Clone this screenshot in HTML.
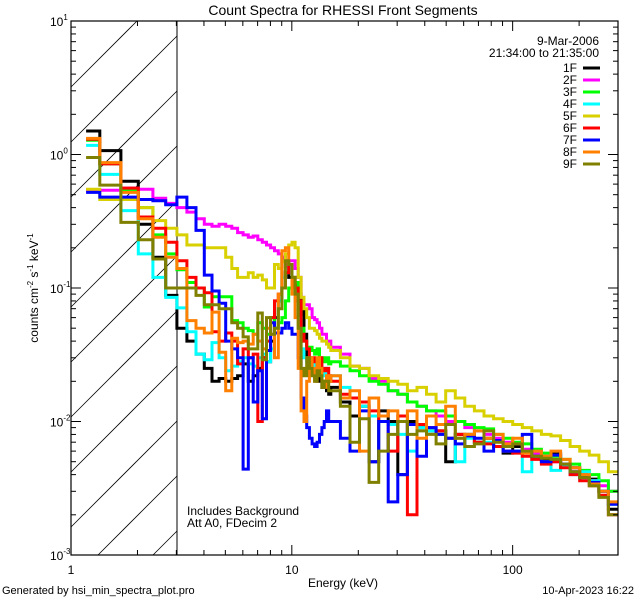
<!DOCTYPE html>
<html><head><meta charset="utf-8">
<style>
html,body{margin:0;padding:0;background:#fff;width:640px;height:600px;overflow:hidden;}
svg{display:block;font-family:"Liberation Sans",sans-serif;}
</style></head>
<body>
<svg id="chart" width="640" height="600" viewBox="0 0 640 600" xmlns="http://www.w3.org/2000/svg">
<rect x="0" y="0" width="640" height="600" fill="#fff"/>
<defs><clipPath id="plotclip"><rect x="71" y="21" width="547" height="534"/></clipPath></defs>
<g id="hatch"></g>
<line x1="177" y1="21" x2="177" y2="555" stroke="#000" stroke-width="1"/>
<g id="series" clip-path="url(#plotclip)"></g>
<rect x="71" y="21" width="547" height="534" fill="none" stroke="#000" stroke-width="1.2"/>
<g id="ticks"></g>
<text x="343" y="15" font-size="14" text-anchor="middle">Count Spectra for RHESSI Front Segments</text>
<text x="343" y="587" font-size="12" text-anchor="middle">Energy (keV)</text>
<text transform="translate(38,288) rotate(-90)" font-size="12" text-anchor="middle">counts cm<tspan font-size="8" dy="-5">-2</tspan><tspan dy="5"> s</tspan><tspan font-size="8" dy="-5">-1</tspan><tspan dy="5"> keV</tspan><tspan font-size="8" dy="-5">-1</tspan></text>
<text x="599" y="45" font-size="12" text-anchor="end">9-Mar-2006</text>
<text x="599" y="57" font-size="12" text-anchor="end">21:34:00 to 21:35:00</text>
<g id="legend"></g>
<text x="187" y="515" font-size="12">Includes Background</text>
<text x="187" y="527" font-size="12">Att A0, FDecim 2</text>
<text x="2" y="594" font-size="11">Generated by hsi_min_spectra_plot.pro</text>
<text x="634" y="594" font-size="11" text-anchor="end">10-Apr-2023 16:22</text>
</svg>
<script>
const seriesNames = ["1F","2F","3F","4F","5F","6F","7F","8F","9F"];
const seriesColors = ["#000000","#ff00ff","#00ff00","#00ffff","#d8d000","#ff0000","#0000ff","#ff8000","#808000"];
const lowEdgeStart = [1.17, 1.35];
const lowBinWidth = 1/3;
const highEdgeMax = 300;
const highBinCount = 30;
const s1F = [1.5,1.07,0.63,0.30,0.17,0.088,0.05,0.04,0.032,0.025,0.02,0.021,0.02,0.021,0.022,0.027,0.02,0.022,0.025,0.03,0.028,0.04,0.06,0.08,0.17,0.16,0.12,0.10,0.11,0.09,0.07,0.045,0.03,0.028,0.025,0.022,0.02,0.022,0.018,0.02,0.017,0.016,
 0.018,0.014,0.011,0.013,0.005,0.012,0.01,0.004,0.01,0.009,0.0085,0.0085,0.005,0.008,0.008,0.007,0.0075,0.0065,0.0058,0.0065,0.006,0.0055,0.0052,0.0058,0.0048,0.0045,0.004,0.0037,0.003,0.0022];
const s2F = [0.54,0.54,0.56,0.55,0.47,0.43,0.40,0.37,0.33,0.30,0.29,0.30,0.29,0.28,0.26,0.25,0.24,0.245,0.23,0.22,0.21,0.20,0.19,0.18,0.17,0.145,0.16,0.16,0.14,0.12,0.085,0.075,0.075,0.07,0.06,0.058,0.055,0.05,0.045,0.045,0.04,0.04,
 0.036,0.032,0.026,0.025,0.021,0.02,0.017,0.016,0.014,0.013,0.012,0.011,0.01,0.01,0.009,0.0085,0.008,0.0075,0.007,0.0068,0.0062,0.0058,0.0055,0.005,0.0048,0.0045,0.004,0.0036,0.0033,0.003];
const s3F = [1.28,0.85,0.54,0.40,0.25,0.18,0.137,0.11,0.10,0.072,0.086,0.086,0.086,0.057,0.055,0.05,0.048,0.045,0.055,0.05,0.045,0.06,0.05,0.055,0.06,0.08,0.1,0.12,0.11,0.08,0.05,0.04,0.035,0.036,0.034,0.032,0.035,0.03,0.03,0.028,0.03,0.027,
 0.028,0.026,0.024,0.022,0.02,0.019,0.017,0.016,0.014,0.013,0.012,0.012,0.011,0.01,0.0095,0.009,0.0088,0.008,0.0075,0.007,0.0068,0.0062,0.0058,0.0055,0.0052,0.0048,0.0043,0.004,0.0036,0.003];
const s4F = [1.17,0.71,0.38,0.18,0.12,0.085,0.071,0.047,0.032,0.029,0.039,0.03,0.024,0.026,0.028,0.03,0.027,0.026,0.03,0.032,0.028,0.035,0.05,0.08,0.12,0.13,0.145,0.1,0.08,0.06,0.035,0.03,0.028,0.03,0.027,0.025,0.028,0.024,0.022,0.025,0.022,0.02,
 0.022,0.018,0.015,0.013,0.011,0.01,0.0095,0.008,0.006,0.009,0.0085,0.008,0.0075,0.005,0.0075,0.007,0.007,0.0065,0.006,0.006,0.0042,0.0055,0.005,0.0043,0.0046,0.004,0.0042,0.0036,0.003,0.0024];
const s5F = [0.55,0.46,0.46,0.40,0.32,0.28,0.25,0.21,0.21,0.2,0.2,0.2,0.17,0.14,0.12,0.12,0.13,0.12,0.125,0.115,0.1,0.1,0.15,0.14,0.157,0.18,0.21,0.22,0.2,0.12,0.085,0.07,0.06,0.05,0.05,0.048,0.045,0.042,0.04,0.04,0.038,0.036,
 0.034,0.03,0.026,0.025,0.022,0.021,0.02,0.019,0.017,0.018,0.016,0.014,0.017,0.015,0.013,0.012,0.011,0.0105,0.01,0.0095,0.009,0.0085,0.008,0.0078,0.0072,0.0065,0.006,0.0056,0.005,0.0042];
const s6F = [1.3,0.85,0.56,0.34,0.28,0.22,0.16,0.12,0.1,0.092,0.047,0.04,0.046,0.04,0.027,0.035,0.03,0.032,0.01,0.03,0.04,0.06,0.08,0.09,0.1,0.13,0.15,0.12,0.1,0.08,0.045,0.04,0.035,0.03,0.03,0.028,0.026,0.03,0.025,0.024,0.025,0.022,
 0.02,0.016,0.015,0.014,0.012,0.01,0.006,0.011,0.002,0.0095,0.009,0.0085,0.0075,0.008,0.0078,0.007,0.0068,0.0065,0.006,0.0058,0.0055,0.0052,0.0048,0.005,0.0045,0.004,0.0036,0.0033,0.0028,0.002];
const s7F = [0.52,0.48,0.48,0.46,0.45,0.42,0.48,0.40,0.27,0.125,0.095,0.077,0.04,0.035,0.03,0.0044,0.03,0.014,0.024,0.0105,0.034,0.055,0.046,0.046,0.05,0.055,0.05,0.045,0.045,0.03,0.015,0.011,0.009,0.0075,0.0068,0.0065,0.007,0.008,0.009,0.01,0.012,0.01,
 0.01,0.0075,0.006,0.012,0.005,0.01,0.0025,0.004,0.0095,0.0055,0.009,0.008,0.0075,0.0068,0.0078,0.0075,0.006,0.0072,0.006,0.006,0.008,0.0055,0.005,0.0056,0.0048,0.0042,0.0038,0.0035,0.003,0.0024];
const s8F = [1.32,0.87,0.52,0.33,0.24,0.17,0.14,0.057,0.05,0.046,0.066,0.033,0.017,0.042,0.039,0.04,0.038,0.045,0.04,0.035,0.05,0.045,0.03,0.09,0.19,0.2,0.15,0.09,0.06,0.025,0.012,0.01,0.02,0.03,0.025,0.02,0.03,0.025,0.02,0.018,0.022,0.02,
 0.022,0.015,0.017,0.006,0.015,0.011,0.012,0.01,0.012,0.0075,0.011,0.0095,0.013,0.0075,0.008,0.0085,0.0075,0.008,0.0068,0.0075,0.0058,0.006,0.0055,0.006,0.0052,0.0045,0.004,0.0034,0.003,0.0025];
const s9F = [0.95,0.59,0.31,0.23,0.165,0.10,0.1,0.1,0.088,0.075,0.075,0.07,0.07,0.055,0.05,0.043,0.035,0.035,0.065,0.029,0.06,0.045,0.05,0.07,0.1,0.16,0.15,0.12,0.09,0.05,0.025,0.022,0.03,0.025,0.022,0.02,0.024,0.022,0.018,0.02,0.02,0.017,
 0.017,0.013,0.007,0.0105,0.0035,0.006,0.008,0.01,0.008,0.0085,0.008,0.0068,0.0095,0.0075,0.0065,0.0068,0.0085,0.007,0.0065,0.0068,0.006,0.0055,0.0053,0.0052,0.0048,0.0042,0.0038,0.0033,0.0027,0.002];
const seriesValues = [s1F,s2F,s3F,s4F,s5F,s6F,s7F,s8F,s9F];
const xTickMajors = [1,10,100];
const xTickLabels = ["1","10","100"];
const yTickExps = [1,0,-1,-2,-3];

const edges = [lowEdgeStart[0]];
for (let i = 0; i < 42; i++) edges.push(lowEdgeStart[1] + i * lowBinWidth);
const lowEnd = edges[edges.length-1];
const ratio = Math.pow(highEdgeMax / lowEnd, 1 / highBinCount);
for (let k = 1; k <= highBinCount; k++) edges.push(lowEnd * Math.pow(ratio, k));

const NS = "http://www.w3.org/2000/svg";
const X0 = 71, X1 = 618, Y0 = 555, Y1 = 21;
const xMin = 1, xMax = 300, yMin = -3, yMax = 1;
function X(e){ return X0 + (Math.log10(e) - Math.log10(xMin)) / (Math.log10(xMax) - Math.log10(xMin)) * (X1 - X0); }
function Y(v){ return Y0 - (Math.log10(v) - yMin) / (yMax - yMin) * (Y0 - Y1); }
function mk(tag, attrs, parent){ const el = document.createElementNS(NS, tag); for (const k in attrs) el.setAttribute(k, attrs[k]); parent.appendChild(el); return el; }

// hatch: lines y = b - (x - 71), clipped to [71,177] x [21,555]
const hatch = document.getElementById('hatch');
for (let b = 21 + 66; b < 555 + 106; b += 55) {
  let xa = 71, ya = b;
  if (ya > 555) { xa = 71 + (ya - 555); ya = 555; }
  let xb = 177, yb = b - 106;
  if (yb < 21) { xb = 71 + (b - 21); yb = 21; }
  if (xb <= xa) continue;
  const ln = mk('line', {x1: xa, y1: ya, x2: xb, y2: yb, stroke: '#000', 'stroke-width': 0.8}, hatch);
  
  
}

const sg = document.getElementById('series');
seriesValues.forEach((vals, si) => {
  let d = '';
  for (let i = 0; i < vals.length && i + 1 < edges.length; i++) {
    const xa = X(edges[i]), xb = X(edges[i+1]), y = Y(vals[i]);
    d += (i === 0 ? 'M' + xa.toFixed(1) + ' ' + y.toFixed(1) : 'V' + y.toFixed(1)) + 'H' + xb.toFixed(1);
  }
  const p = mk('path', {d: d, fill: 'none', stroke: seriesColors[si], 'stroke-width': 3, 'stroke-linejoin': 'miter'}, sg);
  
  
});

const tg = document.getElementById('ticks');
for (let dec = 0; dec < 3; dec++) {
  for (let m = 1; m <= 9; m++) {
    const e = Math.pow(10, dec) * m;
    if (e > xMax) break;
    const x = X(e), len = m === 1 ? 10 : 5;
    mk('line', {x1: x, y1: Y0, x2: x, y2: Y0 - len, stroke: '#000', 'stroke-width': 1}, tg);
    mk('line', {x1: x, y1: Y1, x2: x, y2: Y1 + len, stroke: '#000', 'stroke-width': 1}, tg);
  }
}
xTickMajors.forEach((e, i) => {
  const t = mk('text', {x: X(e), y: 574, 'font-size': 12, 'text-anchor': 'middle'}, tg);
  t.textContent = xTickLabels[i];
  
  
});
for (let ex = -3; ex <= 1; ex++) {
  for (let m = 1; m <= 9; m++) {
    const v = Math.pow(10, ex) * m;
    if (Math.log10(v) > yMax + 1e-9) break;
    const y = Y(v), len = m === 1 ? 10 : 5;
    mk('line', {x1: X0, y1: y, x2: X0 + len, y2: y, stroke: '#000', 'stroke-width': 1}, tg);
    mk('line', {x1: X1, y1: y, x2: X1 - len, y2: y, stroke: '#000', 'stroke-width': 1}, tg);
  }
}
yTickExps.forEach(ex => {
  const t = mk('text', {x: 50, y: Y(Math.pow(10, ex)) + 5, 'font-size': 12}, tg);
  
  
  t.textContent = '10';
  const sp = document.createElementNS(NS, 'tspan');
  sp.setAttribute('font-size', 8); sp.setAttribute('dy', -6);
  sp.textContent = String(ex);
  t.appendChild(sp);
});

const lg = document.getElementById('legend');
seriesNames.forEach((n, i) => {
  const y = 68 + i * 12;
  const t = mk('text', {x: 577, y: y + 4, 'font-size': 12, 'text-anchor': 'end'}, lg);
  t.textContent = n;
  
  
  const l = mk('line', {x1: 583, y1: y, x2: 600, y2: y, stroke: seriesColors[i], 'stroke-width': 3}, lg);
  
  
});
</script>
</body></html>
